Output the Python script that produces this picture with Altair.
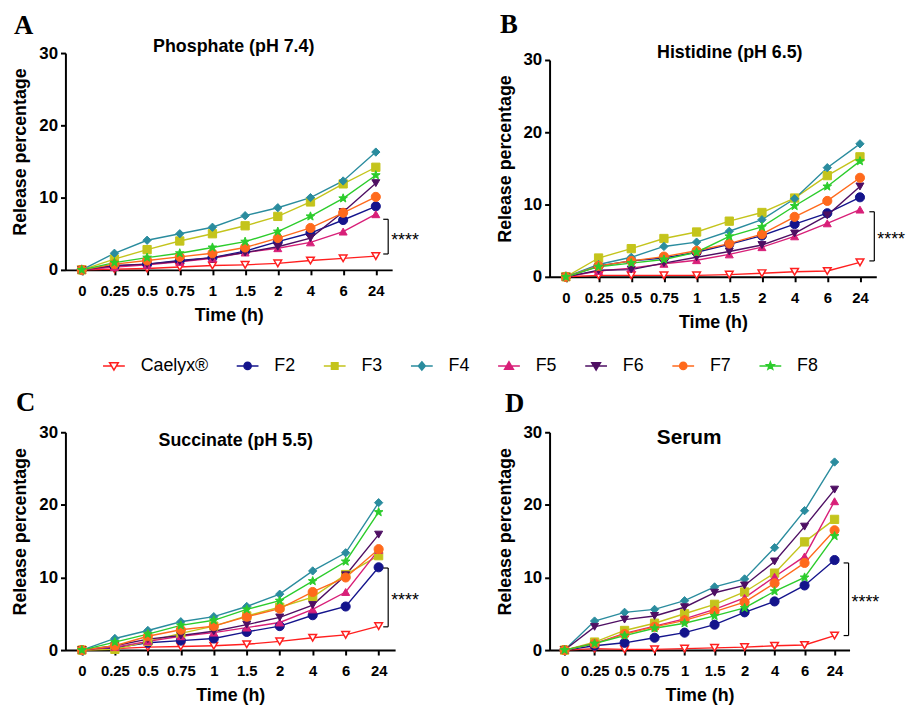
import altair as alt
import pandas as pd

TIMES = ["0", "0.25", "0.5", "0.75", "1", "1.5", "2", "4", "6", "24"]
SERIES = ["Caelyx®", "F2", "F3", "F4", "F5", "F6", "F7", "F8"]
TITLES = ["Phosphate (pH 7.4)", "Histidine (pH 6.5)", "Succinate (pH 5.5)", "Serum"]
LETTERS = ["A", "B", "C", "D"]

phosphate = {
    "Caelyx®": [0, 0.1, 0.2, 0.4, 0.6, 0.7, 0.9, 1.3, 1.6, 1.9],
    "F2": [0, 0.5, 0.8, 1.3, 1.7, 2.6, 3.9, 5.1, 6.9, 8.8],
    "F3": [0, 1.5, 2.8, 4.0, 5.0, 6.1, 7.4, 9.4, 11.9, 14.2],
    "F4": [0, 2.3, 4.1, 5.0, 5.9, 7.5, 8.6, 10.0, 12.3, 16.3],
    "F5": [0, 0.4, 0.7, 1.1, 1.6, 2.4, 3.0, 3.8, 5.3, 7.7],
    "F6": [0, 0.6, 0.8, 1.2, 1.7, 2.4, 3.2, 4.4, 8.0, 12.0],
    "F7": [0, 0.8, 1.3, 1.8, 2.3, 3.1, 4.4, 5.8, 7.9, 10.1],
    "F8": [0, 1.0, 1.7, 2.3, 3.1, 3.9, 5.3, 7.4, 9.9, 13.1],
}
histidine = {
    "Caelyx®": [0, 0.2, 0.2, 0.2, 0.2, 0.3, 0.5, 0.7, 0.8, 2.0],
    "F2": [0, 1.5, 2.2, 2.6, 3.4, 4.5, 5.7, 7.3, 8.8, 11.0],
    "F3": [0, 2.6, 3.9, 5.3, 6.2, 7.7, 8.9, 10.9, 14.0, 16.6],
    "F4": [0, 1.7, 2.7, 4.2, 4.8, 6.3, 7.9, 10.8, 15.1, 18.4],
    "F5": [0, 0.8, 1.2, 1.8, 2.3, 3.1, 4.1, 5.6, 7.4, 9.3],
    "F6": [0, 0.9, 1.0, 1.9, 2.7, 3.5, 4.4, 6.0, 8.5, 12.5],
    "F7": [0, 1.5, 2.2, 2.8, 3.6, 4.6, 5.9, 8.3, 10.5, 13.7],
    "F8": [0, 1.4, 1.9, 2.4, 3.4, 5.6, 6.9, 9.8, 12.5, 16.0],
}
succinate = {
    "Caelyx®": [0, 0.2, 0.4, 0.5, 0.6, 0.8, 1.2, 1.7, 2.1, 3.3],
    "F2": [0, 0.3, 1.0, 1.3, 1.6, 2.5, 3.3, 4.8, 6.0, 11.4],
    "F3": [0, 0.1, 1.2, 2.3, 3.3, 4.7, 5.9, 7.3, 10.4, 13.0],
    "F4": [0, 1.6, 2.7, 3.9, 4.6, 6.0, 7.7, 10.9, 13.4, 20.3],
    "F5": [0, 0.4, 1.2, 1.9, 2.4, 3.1, 3.8, 5.6, 8.0, 13.8],
    "F6": [0, 0.6, 1.5, 2.0, 2.6, 3.5, 4.5, 6.2, 10.3, 15.9],
    "F7": [0, 0.6, 1.9, 2.8, 3.3, 4.6, 5.7, 8.0, 10.0, 13.9],
    "F8": [0, 1.1, 2.2, 3.4, 4.1, 5.6, 6.8, 9.5, 12.2, 19.0],
}
serum = {
    "Caelyx®": [0, 0.2, 0.1, 0.1, 0.2, 0.3, 0.4, 0.6, 0.7, 2.0],
    "F2": [0, 0.6, 1.0, 1.7, 2.4, 3.5, 5.2, 6.7, 8.9, 12.4],
    "F3": [0, 1.1, 2.7, 3.7, 5.0, 6.3, 8.0, 10.6, 14.9, 18.0],
    "F4": [0, 4.0, 5.2, 5.6, 6.8, 8.7, 9.8, 14.1, 19.2, 25.9],
    "F5": [0, 0.9, 2.3, 3.3, 4.3, 5.6, 7.2, 10.1, 12.9, 20.5],
    "F6": [0, 3.2, 4.2, 4.7, 5.9, 7.9, 8.9, 12.2, 17.0, 22.1],
    "F7": [0, 0.9, 2.2, 3.2, 4.1, 5.3, 6.6, 9.2, 12.0, 16.5],
    "F8": [0, 0.9, 2.0, 3.0, 3.7, 4.7, 5.8, 8.1, 10.0, 15.7],
}
PANEL_DATA = [phosphate, histidine, succinate, serum]
BRACKET_TOP = [7.0, 9.0, 11.3, 12.0]
BRACKET_BOTTOM = [2.2, 2.2, 3.2, 2.0]

# ---------------- styles ----------------
FONT = "Liberation Sans"
SERIF = "Liberation Serif"

STAR = [(0, -1), (0.247, -0.340), (0.951, -0.309), (0.400, 0.130), (0.588, 0.809),
        (0, 0.42), (-0.588, 0.809), (-0.400, 0.130), (-0.951, -0.309), (-0.247, -0.340)]


def poly(pts, k=1.0):
    return "M" + "L".join(f"{x * k:.3f},{y * k:.3f}" for x, y in pts) + "Z"


STAR_PATH = poly(STAR)

COLORS = {"Caelyx®": "#ff1f1f", "F2": "#14148c", "F3": "#c4c41c", "F4": "#2a8c9e",
          "F5": "#d81f78", "F6": "#4e0f63", "F7": "#ff6a1c", "F8": "#2ccc2c"}
FILLS = {s: COLORS[s] for s in SERIES}
FILLS["Caelyx®"] = "#ffffff"
SHAPES = {"Caelyx®": "triangle-down", "F2": "circle", "F3": "square", "F4": "diamond",
          "F5": "triangle-up", "F6": "triangle-down", "F7": "circle", "F8": STAR_PATH}
SIZES = {"Caelyx®": 60, "F2": 85, "F3": 70, "F4": 70, "F5": 65, "F6": 65, "F7": 85, "F8": 85}


# legend symbols: a short line with the marker in the middle (unit square coords)
def with_line(marker, half):
    return f"M-1,0L{-half},0M{half},0L1,0" + marker


circ = "M0.33,0A0.33,0.33 0 1,1 -0.33,0A0.33,0.33 0 1,1 0.33,0Z"
LEG_PATHS = {
    "Caelyx®": with_line("M-0.4,-0.3L0.4,-0.3L0,0.38Z", 0.2),
    "F2": with_line(circ, 0.33),
    "F3": with_line("M-0.3,-0.3L0.3,-0.3L0.3,0.3L-0.3,0.3Z", 0.3),
    "F4": with_line("M0,-0.38L0.32,0L0,0.38L-0.32,0Z", 0.32),
    "F5": with_line("M-0.4,0.3L0.4,0.3L0,-0.38Z", 0.0),
    "F6": with_line("M-0.4,-0.3L0.4,-0.3L0,0.38Z", 0.0),
    "F7": with_line(circ, 0.33),
    "F8": with_line(poly(STAR, 0.36), 0.0),
}

# per panel: plot width, plot height, plot top offset inside its cell, title/letter/bracket placement
LAYOUT = [
    dict(w=330, top=0, ph=219, tx=170, ty=-1, ts=18, lx=-52, ly=-19, bx=-4),
    dict(w=330, top=7, ph=219, tx=182, ty=-2, ts=18, lx=-50, ly=-27, bx=-2),
    dict(w=333, top=0, ph=220, tx=172, ty=14, ts=18, lx=-50, ly=-21, bx=-7),
    dict(w=303, top=0, ph=220, tx=141, ty=12, ts=21, lx=-45, ly=-20, bx=-1),
]

x_enc = alt.X("time:N", sort=TIMES, scale=alt.Scale(type="point", padding=0.5),
              axis=alt.Axis(title="Time (h)", labelAngle=0, labelOverlap=False,
                            labelFontSize=15, labelPadding=9, titlePadding=8))


def y_enc(field, L):
    top = L["top"]
    bottom = L["top"] + L["ph"]
    return alt.Y(f"{field}:Q", scale=alt.Scale(domain=[0, 30], nice=False, range=[bottom, top]),
                 axis=alt.Axis(title="Release percentage", values=[0, 10, 20, 30],
                               labelFontSize=17, labelPadding=3, titlePadding=9,
                               titleY=top + L["ph"] / 2 - 10))


def panel(i, with_legend=False):
    data = PANEL_DATA[i]
    L = LAYOUT[i]
    oy = L["top"]
    df = pd.DataFrame([{"time": t, "series": s, "value": v}
                       for s in SERIES for t, v in zip(TIMES, data[s])])
    layers = []
    for s in SERIES:
        layers.append(alt.Chart(df).transform_filter(alt.datum.series == s)
                      .mark_line(color=COLORS[s], strokeWidth=1.4)
                      .encode(x=x_enc, y=y_enc("value", L)))
    for s in SERIES:
        layers.append(alt.Chart(df).transform_filter(alt.datum.series == s)
                      .mark_point(shape=SHAPES[s], filled=True, fill=FILLS[s], stroke=COLORS[s],
                                  strokeWidth=1.5 if s == "Caelyx®" else 1, size=SIZES[s], opacity=1)
                      .encode(x=x_enc, y=y_enc("value", L)))
    # significance bracket
    bdf = pd.DataFrame({"top": [BRACKET_TOP[i]], "bottom": [BRACKET_BOTTOM[i]]})
    bx = L["w"] + L["bx"]
    bc = alt.Chart(bdf)
    layers.append(bc.mark_rule(color="black", strokeWidth=1.2)
                  .encode(x=alt.value(bx), y=y_enc("top", L), y2="bottom:Q"))
    layers.append(bc.mark_rule(color="black", strokeWidth=1.2)
                  .encode(x=alt.value(bx - 5), x2=alt.value(bx), y=y_enc("top", L)))
    layers.append(bc.mark_rule(color="black", strokeWidth=1.2)
                  .encode(x=alt.value(bx - 5), x2=alt.value(bx), y=y_enc("bottom", L)))
    layers.append(bc.transform_calculate(mid="(datum.top + datum.bottom) / 2")
                  .mark_text(text="****", align="left", baseline="middle", font=FONT,
                             fontSize=18, color="black", dy=4)
                  .encode(x=alt.value(bx + 3), y=y_enc("mid", L)))
    # panel title and letter
    layers.append(alt.Chart(pd.DataFrame({"t": [TITLES[i]]}))
                  .mark_text(align="center", baseline="alphabetic", font=FONT, fontWeight="bold",
                             fontSize=L["ts"], color="black")
                  .encode(text="t:N", x=alt.value(L["tx"]), y=alt.value(L["ty"] + oy)))
    layers.append(alt.Chart(pd.DataFrame({"t": [LETTERS[i]]}))
                  .mark_text(align="left", baseline="alphabetic", font=SERIF, fontWeight="bold",
                             fontSize=27, color="black")
                  .encode(text="t:N", x=alt.value(L["lx"]), y=alt.value(L["ly"] + oy)))
    if with_legend:
        leg = alt.Legend(title=None, orient="none", legendX=37, legendY=304, direction="horizontal",
                         columns=8, symbolSize=484, symbolStrokeWidth=1.5, labelFont=FONT,
                         labelFontSize=18, labelColor="black", labelOffset=15, columnPadding=25,
                         padding=0, labelLimit=200)
        ldf = pd.DataFrame({"series": SERIES})
        layers.append(alt.Chart(ldf).transform_filter("false").mark_point(filled=True, opacity=1)
                      .encode(stroke=alt.Stroke("series:N", scale=alt.Scale(domain=SERIES, range=[COLORS[s] for s in SERIES]), legend=leg),
                              fill=alt.Fill("series:N", scale=alt.Scale(domain=SERIES, range=[FILLS[s] for s in SERIES]), legend=leg),
                              shape=alt.Shape("series:N", scale=alt.Scale(domain=SERIES, range=[LEG_PATHS[s] for s in SERIES]), legend=leg)))
    return alt.layer(*layers).properties(width=L["w"], height=L["top"] + L["ph"])


chart = (alt.concat(panel(0, True), panel(1), panel(2), panel(3), columns=2,
                    spacing={"row": 157, "column": 156}, bounds="flush", align="each")
         .properties(padding={"left": 4, "top": 0, "right": 0, "bottom": 0})
         .configure_view(stroke=None)
         .configure_axis(domainColor="black", domainWidth=2, tickColor="black", tickWidth=2,
                         tickSize=5, labelFont=FONT, labelFontWeight="bold", labelColor="black",
                         titleFont=FONT, titleFontWeight="bold", titleFontSize=18, titleColor="black",
                         grid=False))

chart.save("out.html", embed_options={"renderer": "svg", "actions": False})
